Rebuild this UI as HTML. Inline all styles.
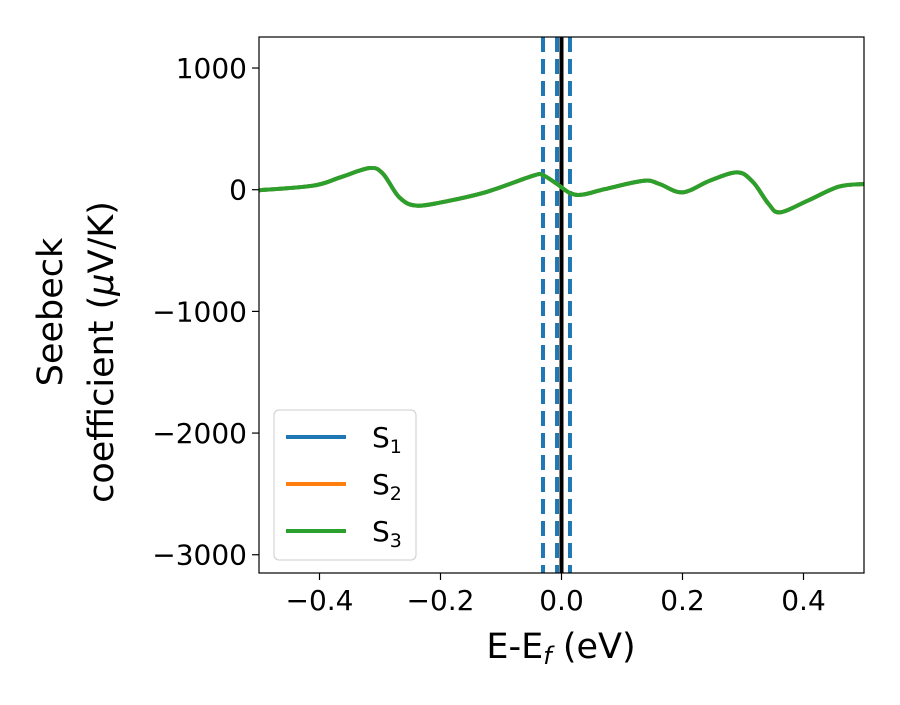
<!DOCTYPE html>
<html><head><meta charset="utf-8"><style>
body{margin:0;background:#fff}
svg{font-family:"DejaVu Sans","Liberation Sans",sans-serif}
</style></head><body>
<svg id="c" width="900" height="700"></svg>
<script>
const xs=[-0.51,-0.411,-0.366,-0.317,-0.295,-0.268,-0.239,-0.185,-0.121,-0.047,-0.031,-0.008,0.014,0.034,0.072,0.136,0.162,0.2,0.245,0.291,0.317,0.342,0.361,0.407,0.458,0.5];
const s3=[-8,33,101,178,131,-63,-131,-90,-14,115,120,49,-27,-41,5,74,47,-22,74,142,60,-115,-186,-90,25,47];
const xTicks=[-0.4,-0.2,0.0,0.2,0.4];
const xTickLabels=["\u22120.4","\u22120.2","0.0","0.2","0.4"];
const yTicks=[1000,0,-1000,-2000,-3000];
const yTickLabels=["1000","0","\u22121000","\u22122000","\u22123000"];
const dashedLines=[-0.0306,-0.0074,0.014];
const fermi=[0];
const L=259,R=864,T=37,B=573;
const X=v=>L+(v+0.5)/1.0*(R-L);
const Y=v=>T+(1255-v)/(1255+3150)*(B-T);
const NS="http://www.w3.org/2000/svg";
const svg=document.getElementById('c');
function mk(t,a,p){const e=document.createElementNS(NS,t);for(const k in a)e.setAttribute(k,a[k]);(p||svg).appendChild(e);return e;}
const defs=mk('defs',{});const cp=mk('clipPath',{id:'cp'},defs);mk('rect',{x:L,y:T,width:R-L,height:B-T},cp);
const g=mk('g',{'clip-path':'url(#cp)'});
dashedLines.forEach(v=>{const l=mk('line',{x1:X(v),x2:X(v),y1:T,y2:B,stroke:'#1f77b4','stroke-width':4,'stroke-dasharray':'15,7'},g);

});
fermi.forEach(v=>{const l=mk('line',{x1:X(v),x2:X(v),y1:T,y2:B,stroke:'#000','stroke-width':4},g);

});
function path(vals){const p=xs.map((x,i)=>[X(x),Y(vals[i])]);let d='M'+p[0][0]+','+p[0][1];
for(let i=0;i<p.length-1;i++){const p0=p[Math.max(0,i-1)],p1=p[i],p2=p[i+1],p3=p[Math.min(p.length-1,i+2)];
d+=` C${p1[0]+(p2[0]-p0[0])/6},${p1[1]+(p2[1]-p0[1])/6} ${p2[0]-(p3[0]-p1[0])/6},${p2[1]-(p3[1]-p1[1])/6} ${p2[0]},${p2[1]}`;}return d;}
[['#1f77b4','s1-line'],['#ff7f0e','s2-line'],['#2ca02c','s3-line']].forEach(([c,n])=>{const e=mk('path',{d:path(s3),fill:'none',stroke:c,'stroke-width':4,'stroke-linejoin':'round'},g);

});
const fr=mk('rect',{x:L,y:T,width:R-L,height:B-T,fill:'none',stroke:'#000','stroke-width':1.2});


xTicks.forEach((v,i)=>{mk('line',{x1:X(v),x2:X(v),y1:B,y2:B+7,stroke:'#000','stroke-width':1.2});
const t=mk('text',{x:X(v),y:B+37,'text-anchor':'middle','font-size':28});t.textContent=xTickLabels[i];

});
yTicks.forEach((v,i)=>{mk('line',{x1:L-7,x2:L,y1:Y(v),y2:Y(v),stroke:'#000','stroke-width':1.2});
const t=mk('text',{x:L-12,y:Y(v)+10,'text-anchor':'end','font-size':28});t.textContent=yTickLabels[i];

});
</script>
<svg width="900" height="700" style="position:absolute;left:0;top:0" font-family="DejaVu Sans, Liberation Sans, sans-serif">
<text x="561" y="658" text-anchor="middle" font-size="35">E-E<tspan font-style="italic" font-size="24" dy="6">f</tspan><tspan dy="-6"> (eV)</tspan></text>
<g transform="translate(62,312) rotate(-90)">
<text x="0" y="0" text-anchor="middle" font-size="35">Seebeck</text>
<text x="-40" y="51" text-anchor="middle" font-size="35">coefficient  (<tspan font-style="italic">μ</tspan>V/K)</text>
</g>
<g>
<rect x="274" y="410" width="142" height="150" rx="5" fill="#fff" fill-opacity="0.8" stroke="#ccc"/>
<line x1="286" x2="346" y1="437" y2="437" stroke="#1f77b4" stroke-width="4"/>
<text x="372" y="447" font-size="28">S<tspan font-size="19" dy="6">1</tspan></text>
<line x1="286" x2="346" y1="484" y2="484" stroke="#ff7f0e" stroke-width="4"/>
<text x="372" y="494" font-size="28">S<tspan font-size="19" dy="6">2</tspan></text>
<line x1="286" x2="346" y1="531" y2="531" stroke="#2ca02c" stroke-width="4"/>
<text x="372" y="541" font-size="28">S<tspan font-size="19" dy="6">3</tspan></text>
</g>
</svg>
</body></html>
